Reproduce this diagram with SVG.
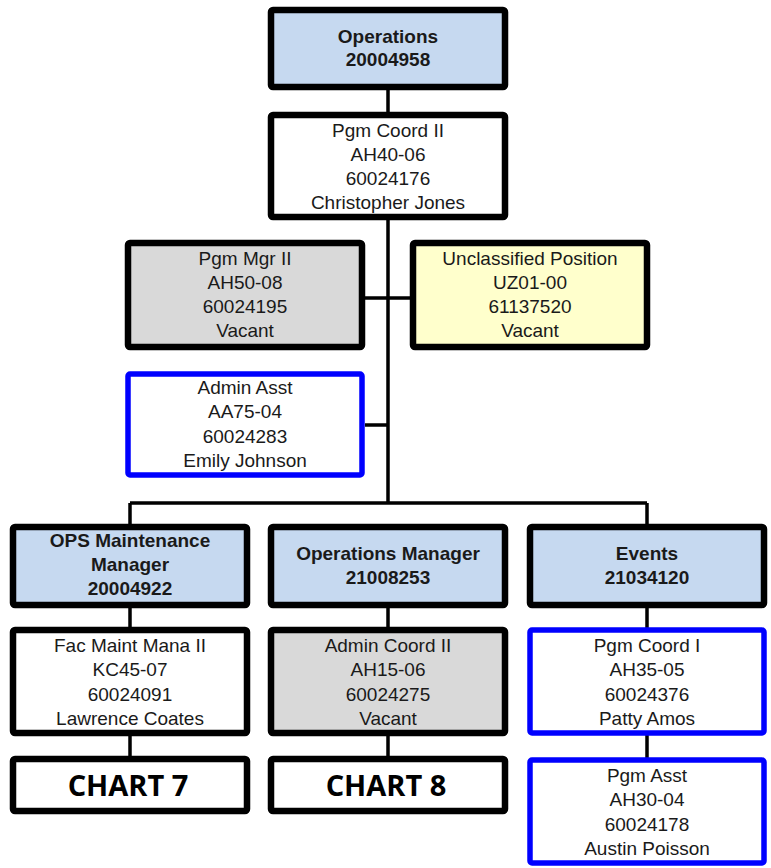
<svg xmlns="http://www.w3.org/2000/svg" width="771" height="868" viewBox="0 0 771 868">
<style>
.box{stroke:#000;stroke-width:6.5}
.blue{stroke:#0000ff;stroke-width:5.5;fill:#fff}
.hdr{fill:#c6d9f0}
.wht{fill:#fff}
.gry{fill:#d9d9d9}
.yel{fill:#ffffcc}
text{font-family:"Liberation Sans",Arial,sans-serif;font-size:19px;fill:#1a1a1a;text-anchor:middle}
.b{font-weight:bold}
.chart{font-family:"Open Sans","Liberation Sans",sans-serif;font-weight:bold;font-size:29px;fill:#000}
.con{stroke:#000;stroke-width:3.5;fill:none}
</style>
<g id="connectors">
<path class="con" d="M388 90V503M365 298H410M365 425H388M130 503H647M130 503V527M647 503V527M130 605V630M388 605V630M647 605V630M130 733V759M388 733V759M647 733V760"/>
</g>
<g id="operations">
<rect class="box hdr" x="271" y="10" width="234" height="77" rx="2"/>
<text class="b" x="388" y="43">Operations</text>
<text class="b" x="388" y="66">20004958</text>
</g>
<g id="pgm-coord-ii">
<rect class="box wht" x="271" y="115" width="234" height="102" rx="2"/>
<text x="388" y="137">Pgm Coord II</text>
<text x="388" y="161">AH40-06</text>
<text x="388" y="185">60024176</text>
<text x="388" y="209">Christopher Jones</text>
</g>
<g id="pgm-mgr-ii">
<rect class="box gry" x="128" y="243" width="234" height="104" rx="2"/>
<text x="245" y="265">Pgm Mgr II</text>
<text x="245" y="289">AH50-08</text>
<text x="245" y="313">60024195</text>
<text x="245" y="337">Vacant</text>
</g>
<g id="unclassified">
<rect class="box yel" x="413" y="243" width="234" height="104" rx="2"/>
<text x="530" y="265">Unclassified Position</text>
<text x="530" y="289">UZ01-00</text>
<text x="530" y="313">61137520</text>
<text x="530" y="337">Vacant</text>
</g>
<g id="admin-asst">
<rect class="blue" x="128" y="374" width="234" height="101" rx="2"/>
<text x="245" y="394">Admin Asst</text>
<text x="245" y="418">AA75-04</text>
<text x="245" y="443">60024283</text>
<text x="245" y="467">Emily Johnson</text>
</g>
<g id="ops-maintenance">
<rect class="box hdr" x="13" y="527" width="234" height="78" rx="2"/>
<text class="b" x="130" y="547">OPS Maintenance</text>
<text class="b" x="130" y="571">Manager</text>
<text class="b" x="130" y="595">20004922</text>
</g>
<g id="operations-manager">
<rect class="box hdr" x="271" y="527" width="234" height="78" rx="2"/>
<text class="b" x="388" y="560">Operations Manager</text>
<text class="b" x="388" y="584">21008253</text>
</g>
<g id="events">
<rect class="box hdr" x="530" y="527" width="234" height="78" rx="2"/>
<text class="b" x="647" y="560">Events</text>
<text class="b" x="647" y="584">21034120</text>
</g>
<g id="fac-maint">
<rect class="box wht" x="13" y="630" width="234" height="103" rx="2"/>
<text x="130" y="652">Fac Maint Mana II</text>
<text x="130" y="676">KC45-07</text>
<text x="130" y="701">60024091</text>
<text x="130" y="725">Lawrence Coates</text>
</g>
<g id="admin-coord-ii">
<rect class="box gry" x="271" y="630" width="234" height="103" rx="2"/>
<text x="388" y="652">Admin Coord II</text>
<text x="388" y="676">AH15-06</text>
<text x="388" y="701">60024275</text>
<text x="388" y="725">Vacant</text>
</g>
<g id="pgm-coord-i">
<rect class="blue" x="530" y="630" width="234" height="103" rx="2"/>
<text x="647" y="652">Pgm Coord I</text>
<text x="647" y="676">AH35-05</text>
<text x="647" y="701">60024376</text>
<text x="647" y="725">Patty Amos</text>
</g>
<g id="chart-7">
<rect class="box wht" x="13" y="759" width="234" height="52" rx="2"/>
<text class="chart" x="128" y="796">CHART 7</text>
</g>
<g id="chart-8">
<rect class="box wht" x="271" y="759" width="234" height="52" rx="2"/>
<text class="chart" x="386" y="796">CHART 8</text>
</g>
<g id="pgm-asst">
<rect class="blue" x="530" y="760" width="234" height="103" rx="2"/>
<text x="647" y="782">Pgm Asst</text>
<text x="647" y="806">AH30-04</text>
<text x="647" y="831">60024178</text>
<text x="647" y="855">Austin Poisson</text>
</g>
</svg>
